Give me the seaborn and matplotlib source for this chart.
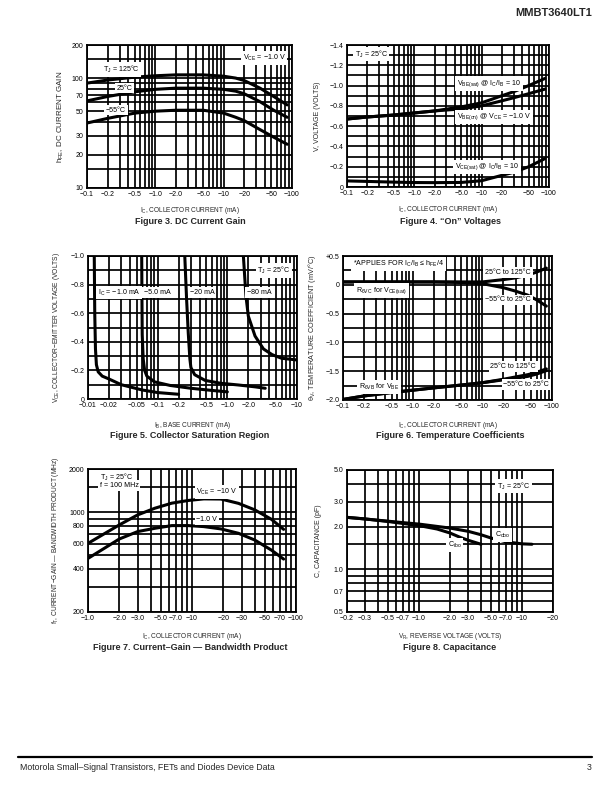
import numpy as np
import pandas as pd
import matplotlib
matplotlib.use("Agg")
import matplotlib.pyplot as plt
import seaborn as sns
from matplotlib.ticker import FixedLocator, FixedFormatter, NullFormatter

# ---------------- data ----------------
# Figure 3: DC current gain
f3_ic = [0.1, 0.2, 0.5, 1, 2, 5, 10, 15, 20, 34, 54, 85]
f3_h125 = [90, 96, 102, 105, 107, 107, 104, 100, 95, 81, 68, 57]
f3_h25 = [62, 68, 75, 79, 81, 81, 79, 76, 72, 61, 51, 44]
f3_hm55 = [39, 43, 48, 50, 51, 51, 48, 44, 41, 34, 29, 25]

# Figure 4: "On" voltages (magnitudes, volts)
f4_ic = [0.1, 0.2, 0.5, 1, 2, 5, 10, 20, 30, 50, 87]
f4_vbesat = [0.67, 0.69, 0.71, 0.73, 0.75, 0.79, 0.83, 0.90, 0.94, 1.00, 1.07]
f4_vbeon = [0.67, 0.69, 0.71, 0.73, 0.75, 0.77, 0.80, 0.85, 0.88, 0.92, 0.965]
f4_vcesat = [0.06, 0.055, 0.048, 0.044, 0.043, 0.045, 0.062, 0.115, 0.145, 0.20, 0.28]

# Figure 5: collector saturation region (magnitudes)
f5_ib_1 = [0.0123, 0.0125, 0.0128, 0.0132, 0.014, 0.016, 0.02, 0.03, 0.06, 0.1, 0.2]
f5_v_1 = [1.0, 0.6, 0.35, 0.24, 0.19, 0.16, 0.14, 0.10, 0.063, 0.045, 0.033]
f5_ib_5 = [0.059, 0.0595, 0.060, 0.062, 0.065, 0.07, 0.09, 0.15, 0.3, 0.6, 1.0]
f5_v_5 = [1.0, 0.7, 0.45, 0.28, 0.20, 0.16, 0.12, 0.095, 0.075, 0.06, 0.05]
f5_ib_20 = [0.245, 0.26, 0.275, 0.29, 0.30, 0.34, 0.48, 0.8, 1.44, 2.5, 3.5]
f5_v_20 = [1.0, 0.7, 0.46, 0.28, 0.22, 0.17, 0.13, 0.11, 0.098, 0.085, 0.075]
f5_ib_80 = [1.7, 1.85, 2.0, 2.5, 3.3, 4.4, 6.0, 10]
f5_v_80 = [1.0, 0.72, 0.58, 0.44, 0.35, 0.31, 0.285, 0.273]

# Figure 6: temperature coefficients (mV/°C)
f6_ic = [0.1, 0.2, 0.5, 1, 2, 5, 10, 20, 30, 45, 60, 83]
f6_vc_hi = [0.05, 0.05, 0.05, 0.05, 0.05, 0.05, 0.05, 0.09, 0.12, 0.17, 0.22, 0.29]
f6_vc_lo = [0.05, 0.05, 0.05, 0.05, 0.05, 0.04, 0.02, -0.05, -0.11, -0.18, -0.26, -0.37]
f6_vb_hi = [-1.99, -1.93, -1.87, -1.83, -1.79, -1.74, -1.70, -1.64, -1.60, -1.56, -1.52, -1.46]
f6_vb_lo = [-1.99, -1.93, -1.87, -1.83, -1.79, -1.74, -1.70, -1.65, -1.62, -1.59, -1.55, -1.49]

# Figure 7: current-gain bandwidth product (MHz)
f7_ic = [1, 2, 3, 4.4, 6.4, 9.2, 13, 19, 28, 40, 58, 76]
f7_ft10 = [604, 813, 955, 1064, 1154, 1205, 1236, 1233, 1150, 1037, 890, 757]
f7_ft1 = [474, 648, 730, 770, 804, 804, 791, 762, 710, 638, 542, 469]

# Figure 8: capacitance (pF)
f8_vr_obo = [0.2, 0.3, 0.5, 0.7, 1.0, 2.0, 3.0, 4.0, 5.0, 7.0, 10, 12.5]
f8_cobo = [2.32, 2.26, 2.18, 2.13, 2.08, 1.95, 1.85, 1.75, 1.66, 1.56, 1.51, 1.50]
f8_vr_ibo = [0.2, 0.3, 0.5, 0.7, 1.0, 1.5, 2.0, 2.5, 3.0, 4.0]
f8_cibo = [2.32, 2.26, 2.17, 2.10, 2.03, 1.92, 1.80, 1.68, 1.60, 1.50]

# tick labels
ic_ticks = [0.1, 0.2, 0.5, 1, 2, 5, 10, 20, 50, 100]
ic_labels = ["−0.1", "−0.2", "−0.5", "−1.0", "−2.0", "−5.0", "−10", "−20", "−50", "−100"]
ib_ticks = [0.01, 0.02, 0.05, 0.1, 0.2, 0.5, 1, 2, 5, 10]
ib_labels = ["−0.01", "−0.02", "−0.05", "−0.1", "−0.2", "−0.5", "−1.0", "−2.0", "−5.0", "−10"]
f7_xticks = [1, 2, 3, 5, 7, 10, 20, 30, 50, 70, 100]
f7_xlabels = ["−1.0", "−2.0", "−3.0", "−5.0", "−7.0", "−10", "−20", "−30", "−50", "−70", "−100"]
f8_xticks = [0.2, 0.3, 0.5, 0.7, 1, 2, 3, 5, 7, 10, 20]
f8_xlabels = ["−0.2", "−0.3", "−0.5", "−0.7", "−1.0", "−2.0", "−3.0", "−5.0", "−7.0", "−10", "−20"]

# ---------------- style ----------------
sns.set_style("white")
plt.rcParams["font.family"] = ["Liberation Sans", "DejaVu Sans"]
plt.rcParams["mathtext.fontset"] = "custom"
plt.rcParams["mathtext.rm"] = "Liberation Sans"
plt.rcParams["mathtext.it"] = "Liberation Sans:italic"
plt.rcParams["mathtext.bf"] = "Liberation Sans:bold"
plt.rcParams["axes.unicode_minus"] = True

TICK_FS = 5
LAB_FS = 4.7
YLAB_FS = 5.0
TXT_FS = 5.1
CAP_FS = 6.5
GRID_LW = 1.25
CURVE_LW = 2.2

fig = plt.figure(figsize=(6.12, 7.92), dpi=100)


def add_ax(l, t, r, b):
    return fig.add_axes([l / 612, 1 - b / 792, (r - l) / 612, (b - t) / 792])


def decade_minors(lo, hi):
    out = []
    d = lo
    while d < hi:
        for k in range(1, 10):
            v = round(k * d, 10)
            if lo <= v <= hi:
                out.append(v)
        d *= 10
    return out


def setup(ax, xlim, xticks, xlabels, xminor, ylim, yticks, ylabels, yminor,
          xlog=True, ylog=False):
    if xlog:
        ax.set_xscale("log")
    if ylog:
        ax.set_yscale("log")
    ax.set_xlim(*xlim)
    ax.set_ylim(*ylim)
    ax.xaxis.set_major_locator(FixedLocator(xticks))
    ax.xaxis.set_major_formatter(FixedFormatter(xlabels))
    ax.xaxis.set_minor_locator(FixedLocator(xminor))
    ax.xaxis.set_minor_formatter(NullFormatter())
    ax.yaxis.set_major_locator(FixedLocator(yticks))
    ax.yaxis.set_major_formatter(FixedFormatter(ylabels))
    ax.yaxis.set_minor_locator(FixedLocator(yminor))
    ax.yaxis.set_minor_formatter(NullFormatter())
    ax.grid(True, which="both", color="black", lw=GRID_LW)
    ax.tick_params(which="both", length=0, labelsize=TICK_FS, pad=2.5, colors="black")
    for s in ax.spines.values():
        s.set_visible(True)
        s.set_color("black")
        s.set_linewidth(1.3)
    ax.set_axisbelow(True)


def curve(ax, x, y):
    df = pd.DataFrame({"x": x, "y": y})
    sns.lineplot(data=df, x="x", y="y", ax=ax, color="black", lw=CURVE_LW,
                 estimator=None, sort=False, legend=False)
    ax.set_xlabel("")
    ax.set_ylabel("")


def label(ax, x, y, s, ha="left", va="center", fs=TXT_FS):
    ax.text(x, y, s, ha=ha, va=va, fontsize=fs, color="black", zorder=5,
            bbox=dict(boxstyle="square,pad=0.25", fc="white", ec="none"))


def labels(ax, xl, yl, ylx=-0.11, xly=-0.13, yfs=YLAB_FS):
    ax.set_xlabel(xl, fontsize=LAB_FS)
    ax.set_ylabel(yl, fontsize=yfs)
    ax.xaxis.set_label_coords(0.5, xly)
    ax.yaxis.set_label_coords(ylx, 0.5)


def caption(x, y, s):
    fig.text(x / 612, 1 - y / 792, s, ha="center", va="center",
             fontsize=CAP_FS, fontweight="bold")


ic_minor = decade_minors(0.1, 100)

# ---- Figure 3 ----
ax3 = add_ax(87, 45, 292, 188)
setup(ax3, (0.1, 100), ic_ticks, ic_labels, ic_minor,
      (10, 200), [10, 20, 30, 50, 70, 100, 200],
      ["10", "20", "30", "50", "70", "100", "200"],
      [15, 40, 60, 80, 90, 150], ylog=True)
curve(ax3, f3_ic, f3_h125)
curve(ax3, f3_ic, f3_h25)
curve(ax3, f3_ic, f3_hm55)
label(ax3, 0.17, 120, r"T$_\mathrm{J}$ = 125°C")
label(ax3, 0.27, 81, "25°C")
label(ax3, 0.19, 51, "−55°C")
label(ax3, 19, 152, r"V$_\mathrm{CE}$ = −1.0 V")
labels(ax3, r"I$_\mathrm{C}$, COLLECTOR CURRENT (mA)", r"h$_\mathrm{FE}$, DC CURRENT GAIN",
       ylx=-0.10, xly=-0.12, yfs=5.8)
caption(190, 222, "Figure 3. DC Current Gain")

# ---- Figure 4 ----
ax4 = add_ax(347, 45, 549, 187)
v_ticks = [0, 0.2, 0.4, 0.6, 0.8, 1.0, 1.2, 1.4]
setup(ax4, (0.1, 100), ic_ticks, ic_labels, ic_minor,
      (0, 1.4), v_ticks, ["0", "−0.2", "−0.4", "−0.6", "−0.8", "−1.0", "−1.2", "−1.4"],
      [0.1, 0.3, 0.5, 0.7, 0.9, 1.1, 1.3])
curve(ax4, f4_ic, f4_vbesat)
curve(ax4, f4_ic, f4_vbeon)
curve(ax4, f4_ic, f4_vcesat)
label(ax4, 0.13, 1.31, r"T$_\mathrm{J}$ = 25°C")
label(ax4, 4.3, 1.02, r"V$_\mathrm{BE(sat)}$ @ I$_\mathrm{C}$/I$_\mathrm{B}$ = 10")
label(ax4, 4.3, 0.69, r"V$_\mathrm{BE(on)}$ @ V$_\mathrm{CE}$ = −1.0 V")
label(ax4, 4.0, 0.2, r"V$_\mathrm{CE(sat)}$ @ I$_\mathrm{C}$/I$_\mathrm{B}$ = 10")
labels(ax4, r"I$_\mathrm{C}$, COLLECTOR CURRENT (mA)", "V, VOLTAGE (VOLTS)",
       ylx=-0.13, xly=-0.12)
caption(450, 222, "Figure 4. “On” Voltages")

# ---- Figure 5 ----
ax5 = add_ax(88, 256, 297, 399)
setup(ax5, (0.01, 10), ib_ticks, ib_labels, decade_minors(0.01, 10),
      (0, 1.0), [0, 0.2, 0.4, 0.6, 0.8, 1.0], ["0", "−0.2", "−0.4", "−0.6", "−0.8", "−1.0"],
      [0.1, 0.3, 0.5, 0.7, 0.9])
curve(ax5, f5_ib_1, f5_v_1)
curve(ax5, f5_ib_5, f5_v_5)
curve(ax5, f5_ib_20, f5_v_20)
curve(ax5, f5_ib_80, f5_v_80)
label(ax5, 0.0138, 0.745, r"I$_\mathrm{C}$ = −1.0 mA")
label(ax5, 0.064, 0.745, "−5.0 mA")
label(ax5, 0.29, 0.745, "−20 mA")
label(ax5, 1.9, 0.745, "−80 mA")
label(ax5, 2.7, 0.9, r"T$_\mathrm{J}$ = 25°C")
labels(ax5, r"I$_\mathrm{B}$, BASE CURRENT (mA)",
       r"V$_\mathrm{CE}$, COLLECTOR−EMITTER VOLTAGE (VOLTS)", ylx=-0.125, xly=-0.145, yfs=4.8)
caption(190, 436, "Figure 5. Collector Saturation Region")

# ---- Figure 6 ----
ax6 = add_ax(343, 256, 552, 400)
setup(ax6, (0.1, 100), ic_ticks, ic_labels, ic_minor,
      (-2.0, 0.5), [-2.0, -1.5, -1.0, -0.5, 0, 0.5], ["−2.0", "−1.5", "−1.0", "−0.5", "0", "+0.5"],
      [-1.75, -1.25, -0.75, -0.25, 0.25])
curve(ax6, f6_ic, f6_vc_hi)
curve(ax6, f6_ic, f6_vc_lo)
curve(ax6, f6_ic, f6_vb_hi)
curve(ax6, f6_ic, f6_vb_lo)
label(ax6, 0.14, 0.36, r"*APPLIES FOR I$_\mathrm{C}$/I$_\mathrm{B}$ ≤ h$_\mathrm{FE}$/4")
label(ax6, 0.155, -0.1, r"R$_\mathrm{θVC}$ for V$_\mathrm{CE(sat)}$")
label(ax6, 11, 0.21, "25°C to 125°C")
label(ax6, 11, -0.26, "−55°C to 25°C")
label(ax6, 13, -1.42, "25°C to 125°C")
label(ax6, 20, -1.73, "−55°C to 25°C")
label(ax6, 0.17, -1.77, r"R$_\mathrm{θVB}$ for V$_\mathrm{BE}$")
labels(ax6, r"I$_\mathrm{C}$, COLLECTOR CURRENT (mA)",
       r"θ$_\mathrm{V}$, TEMPERATURE COEFFICIENT (mV/°C)", ylx=-0.12, xly=-0.14, yfs=5.2)
caption(450, 436, "Figure 6. Temperature Coefficients")

# ---- Figure 7 ----
ax7 = add_ax(88, 469, 296, 612)
setup(ax7, (1, 100), f7_xticks, f7_xlabels, decade_minors(1, 100),
      (200, 2000), [200, 400, 600, 800, 1000, 2000], ["200", "400", "600", "800", "1000", "2000"],
      [300, 500, 700, 900, 1500], ylog=True)
curve(ax7, f7_ic, f7_ft10)
curve(ax7, f7_ic, f7_ft1)
label(ax7, 1.3, 1760, r"T$_\mathrm{J}$ = 25°C")
label(ax7, 1.3, 1530, "f = 100 MHz")
label(ax7, 11, 1380, r"V$_\mathrm{CE}$ = −10 V")
label(ax7, 11, 885, "−1.0 V")
labels(ax7, r"I$_\mathrm{C}$, COLLECTOR CURRENT (mA)",
       r"f$_\mathrm{T}$, CURRENT−GAIN — BANDWIDTH PRODUCT (MHz)", ylx=-0.13, xly=-0.135, yfs=4.8)
caption(190, 647, "Figure 7. Current–Gain — Bandwidth Product")

# ---- Figure 8 ----
ax8 = add_ax(347, 470, 553, 612)
setup(ax8, (0.2, 20), f8_xticks, f8_xlabels, decade_minors(0.1, 20)[1:],
      (0.5, 5.0), [0.5, 0.7, 1.0, 2.0, 3.0, 5.0], ["0.5", "0.7", "1.0", "2.0", "3.0", "5.0"],
      [0.6, 0.8, 0.9, 1.5, 4.0], ylog=True)
curve(ax8, f8_vr_obo, f8_cobo)
curve(ax8, f8_vr_ibo, f8_cibo)
label(ax8, 5.7, 3.85, r"T$_\mathrm{J}$ = 25°C")
label(ax8, 5.5, 1.74, r"C$_\mathrm{obo}$")
label(ax8, 1.9, 1.48, r"C$_\mathrm{ibo}$")
labels(ax8, r"V$_\mathrm{R}$, REVERSE VOLTAGE (VOLTS)", "C, CAPACITANCE (pF)",
       ylx=-0.12, xly=-0.135)
caption(450, 647, "Figure 8. Capacitance")

# ---- header / footer ----
fig.text(592 / 612, 1 - 13 / 792, "MMBT3640LT1", ha="right", va="center",
         fontsize=8, fontweight="bold")
fig.add_artist(plt.Line2D([18 / 612, 592 / 612], [1 - 757 / 792, 1 - 757 / 792],
                          color="black", lw=1.6, transform=fig.transFigure))
fig.text(20 / 612, 1 - 768 / 792, "Motorola Small–Signal Transistors, FETs and Diodes Device Data",
         ha="left", va="center", fontsize=6.3)
fig.text(592 / 612, 1 - 768 / 792, "3", ha="right", va="center", fontsize=6.3)

fig.savefig("out.png", dpi=100)
